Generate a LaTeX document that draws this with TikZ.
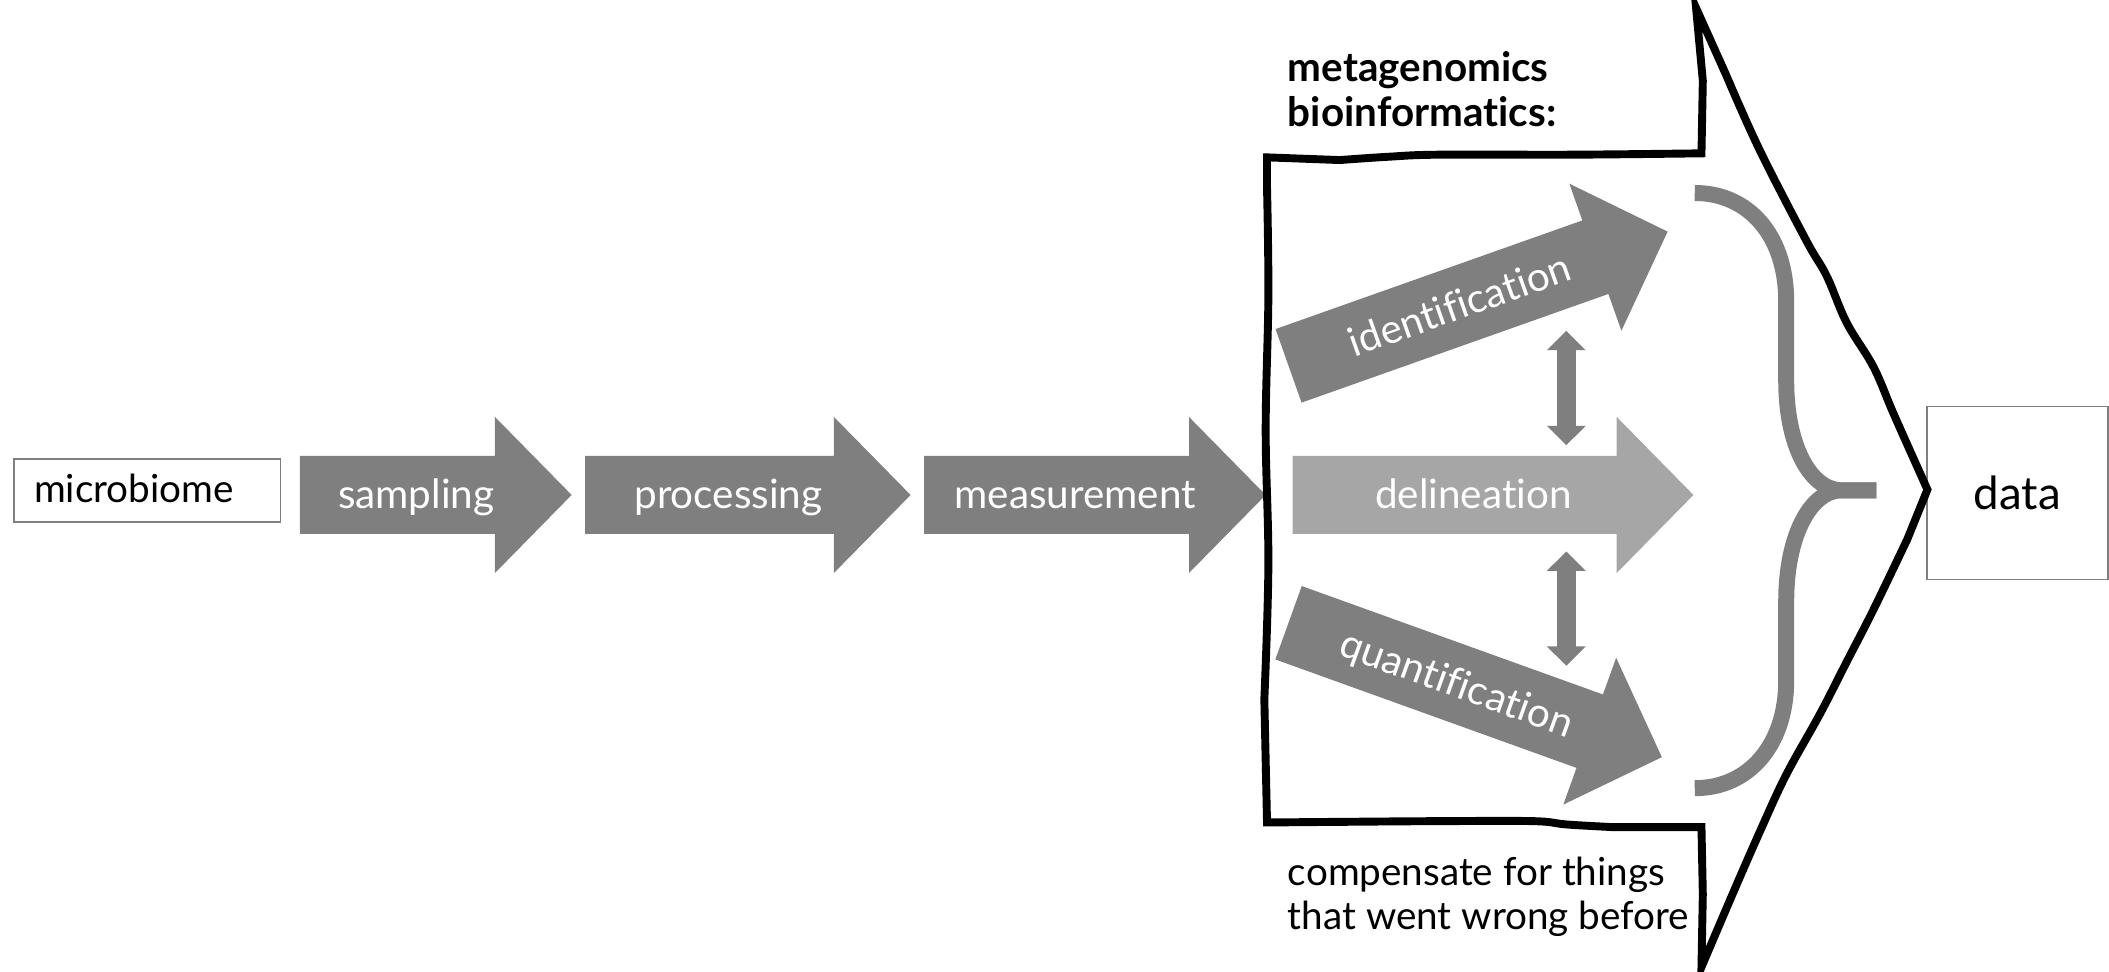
\documentclass[tikz,border=0pt]{standalone}
\usepackage{fontspec}
\setmainfont{Lato}[Ligatures=CommonOff]
\usetikzlibrary{arrows.meta}
\definecolor{stepGray}{RGB}{127,127,127}
\definecolor{stepLight}{RGB}{166,166,166}
\tikzset{
  endbox/.style={draw=stepGray, line width=0.5pt, inner sep=0pt},
  arrowlabel/.style={text=white, inner sep=0pt, text height=8.6pt, text depth=0.8pt,
    font=\fontsize{11.5}{13}\selectfont},
  twoway/.style={stepGray, line width=5.34pt,
    {Triangle[width=10.7pt, length=5.5pt]}-{Triangle[width=10.7pt, length=5.5pt]}},
  outline/.style={line width=2.25pt, line join=miter},
  bracket/.style={stepGray, line width=4.55pt}
}
% block arrow: [colour]{tail centre}{angle}{length}{name}{label}
\newcommand{\flowarrow}[6][stepGray]{%
  \begin{scope}[shift={(#2)}, rotate=#3]
    \fill[#1] (0,-29) -- ({#4-57},-29) -- ({#4-57},-58) -- (#4,0)
      -- ({#4-57},58) -- ({#4-57},29) -- (0,29) -- cycle;
    \node[arrowlabel, rotate=#3] (#5) at ({#4/2-14.5},0) {#6};
  \end{scope}}

\begin{document}
\begin{tikzpicture}[x=0.1345mm, y=-0.1345mm]
  \useasboundingbox (0,0) rectangle (1568,722);

  % start and end
  \node[endbox, text width=64.4pt, inner xsep=5.72pt, minimum height=17.9pt,
    text height=8.4pt, text depth=1.2pt, align=left, font=\fontsize{11}{13}\selectfont]
    (microbiome) at (109.5,364.5) {microbiome};
  \node[endbox, minimum width=51.5pt, minimum height=49.2pt,
    font=\fontsize{13}{15}\selectfont] (data) at (1499.7,366.5) {data};

  % pipeline
  \flowarrow{223,368}{0}{202}{sampling}{sampling}
  \flowarrow{435,368}{0}{242}{processing}{processing}
  \flowarrow{687,368}{0}{254}{measurement}{measurement}
  \flowarrow[stepLight]{961,368}{0}{298}{delineation}{delineation}
  \flowarrow{958,272}{19.5}{299}{identification}{identification}
  \flowarrow{958,463}{-19.8}{295}{quantification}{quantification}

  % links between the steps
  \coordinate (upA) at (1164.5,246);
  \coordinate (upB) at (1164.5,331);
  \coordinate (loA) at (1164.5,410);
  \coordinate (loB) at (1164.5,495);
  \draw[twoway] (upA) -- (upB);
  \draw[twoway] (loA) -- (loB);

  % brace
  \draw[bracket] (1260,143.5) .. controls (1300,143.5) and (1328,175) .. (1328,224)
    -- (1328,283) .. controls (1328,330) and (1345,363) .. (1368,364.5) -- (1395,364.5);
  \draw[bracket] (1260,586) .. controls (1300,586) and (1328,554) .. (1328,506)
    -- (1328,447) .. controls (1328,400) and (1345,366) .. (1368,364.5) -- (1395,364.5);

  % hand drawn frame
  \draw[outline] (942,117)
    -- plot[smooth, tension=0.6] coordinates {(996,119) (1033,116.5) (1070,115) (1170,115) (1265,114)}
    -- (1266,60) -- (1261,6)
    -- plot[smooth, tension=0.6] coordinates {(1283,55) (1308,111) (1343,179) (1358,205) (1373,240) (1393,273) (1408,308) (1433,364)}
    -- plot[smooth, tension=0.6] coordinates {(1418,401) (1393,453) (1373,492) (1353,531) (1328,576) (1309,617) (1288,665) (1265,719)}
    -- (1266,665) -- (1265,615)
    -- plot[smooth, tension=0.6] coordinates {(1200,615) (1165,613) (1140,610.5) (1070,610.5) (1000,611) (942,611.5)}
    -- plot[smooth, tension=0.6] coordinates {(940,520) (943,420) (941,320) (943,220) (942,140)}
    -- cycle;

  % texts in the frame (base = last line)
  \node[anchor=base west, inner sep=0pt, align=left, font=\bfseries\fontsize{11.5}{12.8}\selectfont]
    (title) at (957,94) {metagenomics\\bioinformatics:};
  \node[anchor=base west, inner sep=0pt, align=left, font=\fontsize{11}{12.6}\selectfont]
    (note) at (957,691) {compensate for things\\that went wrong before};
\end{tikzpicture}
\end{document}
